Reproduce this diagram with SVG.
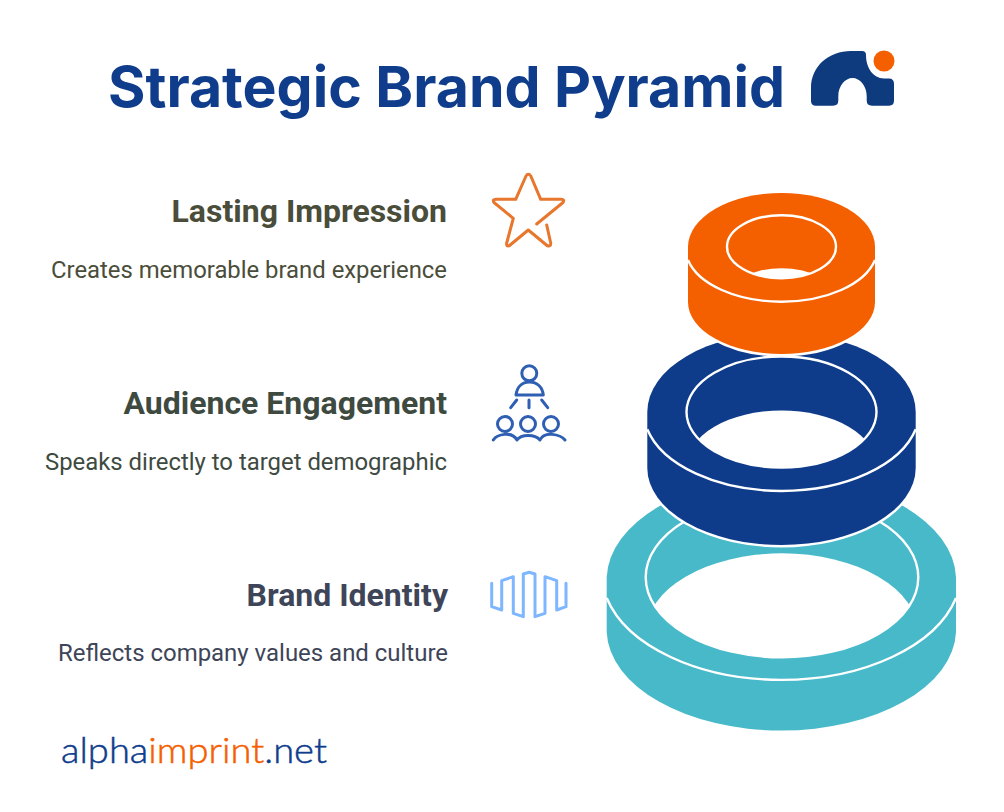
<svg xmlns="http://www.w3.org/2000/svg" width="1004" height="812" viewBox="0 0 1004 812">
<style>
.title{font-family:"Inter","Liberation Sans",sans-serif;font-weight:700;font-size:56px;fill:#0f3d8c}
.h{font-family:Roboto,"Liberation Sans",sans-serif;font-weight:700;font-size:32px;text-anchor:end}
.d{font-family:Roboto,"Liberation Sans",sans-serif;font-weight:400;font-size:24px;text-anchor:end}
.url{font-family:Lato,"Liberation Sans",sans-serif;font-weight:300;font-size:36px;fill:#0f3d8c;stroke:#0f3d8c;stroke-width:.5}
.org{fill:#f46000;stroke:#f46000}
.ln{fill:none;stroke:#fff;stroke-width:2.4}
.ic{fill:none;stroke-width:3;stroke-linecap:round;stroke-linejoin:round}
.edge{stroke:#fff;stroke-width:5;paint-order:stroke}
</style>
<defs>
<clipPath id="c1"><ellipse cx="781.5" cy="246.7" rx="54.5" ry="31.5"/></clipPath>
<clipPath id="c2"><ellipse cx="781.5" cy="412" rx="95" ry="55.5"/></clipPath>
<clipPath id="c3"><ellipse cx="782" cy="577.3" rx="136.3" ry="80"/></clipPath>
</defs>
<rect width="1004" height="812" fill="#fff"/>
<g id="title"><text class="title" x="108" y="107" textLength="677" lengthAdjust="spacingAndGlyphs">Strategic Brand Pyramid</text></g>
<g id="logo">
<path d="M811 101V88C811 66 829 51 851 51H862Q866 51 866 55C866 68 873 78 884 78.500H889Q894 78.500 894 84V100.500Q894 105.700 889 105.700H872Q866.700 105.700 866.700 100.500V96C866.700 86 860 78 852.500 78C845 78 838.300 86 838.300 96V100.500Q838.300 105.700 833 105.700H816Q811 105.700 811 101Z" fill="#0e3a7e"/>
<circle cx="884" cy="61" r="10.500" fill="#f46000"/>
</g>
<g id="ring-base">
<path d="M606.700 577.300A174.700 102.700 0 0 1 956 577.300V632A174.700 101 0 0 1 606.700 632Z" fill="#47b9c9"/>
<ellipse cx="782" cy="633.300" rx="136.300" ry="80" fill="#fff" clip-path="url(#c3)"/>
<ellipse class="ln" cx="782" cy="577.300" rx="136.300" ry="80"/>
<path class="ln" d="M606.700 598A180 108 0 0 0 956 598"/>
</g>
<g id="ring-middle">
<path class="edge" d="M647.300 412A134.200 79 0 0 1 915.700 412V468A134.200 77 0 0 1 647.300 468Z" fill="#0e3b8a"/>
<ellipse cx="781.500" cy="466" rx="95" ry="55.500" fill="#fff" clip-path="url(#c2)"/>
<ellipse class="ln" cx="781.500" cy="412" rx="95" ry="55.500"/>
<path class="ln" d="M647.300 429.300A138 80.400 0 0 0 915.700 429.300"/>
</g>
<g id="ring-top">
<path class="edge" d="M688 247A93.500 54 0 0 1 875 247V302A93.500 52 0 0 1 688 302Z" fill="#f46000"/>
<ellipse cx="781.500" cy="299.700" rx="54.500" ry="31.500" fill="#fff" clip-path="url(#c1)"/>
<ellipse class="ln" cx="781.500" cy="246.700" rx="54.500" ry="31.500"/>
<path class="ln" d="M688 260A96 53.900 0 0 0 875 260"/>
</g>
<g id="label-top">
<text class="h" x="447" y="222" fill="#4a4d3a">Lasting Impression</text>
<text class="d" x="447" y="278" fill="#4a4d3a" textLength="396" lengthAdjust="spacingAndGlyphs">Creates memorable brand experience</text>
<path class="ic" stroke="#e8762c" d="M546.700 225L550.700 243Q551 247 547 245.500L528.300 230L509.500 245.500Q506 247 506.700 243L513.300 218.300L494 202.500Q492 199.300 496 199.300H515.700L526 176Q528.300 172.500 530.800 176L540.700 199.300H561Q565 199.300 563 202.500L536.700 224"/>
</g>
<g id="label-middle">
<text class="h" x="447" y="414" fill="#3e4a3f">Audience Engagement</text>
<text class="d" x="447" y="470" fill="#3e4a3f" textLength="402" lengthAdjust="spacingAndGlyphs">Speaks directly to target demographic</text>
<g class="ic" stroke="#2f5fb3">
<circle cx="529.300" cy="373.300" r="7.500"/>
<path d="M516 395C517 387 522 382 529.500 382C537 382 542.500 387 543.300 395Z"/>
<path d="M510.700 407.700L516.700 400M529 400V407.700M541.700 400L547.700 407.700"/>
<circle cx="505" cy="424" r="7.500"/><circle cx="528" cy="424" r="7.500"/><circle cx="551" cy="424" r="7.500"/>
<path d="M493.300 440C497 434 512 431 517 440C521 434 535 434 540 440C544 431 560 434 565 440"/>
</g>
</g>
<g id="label-base">
<text class="h" x="448" y="606" fill="#3e4558">Brand Identity</text>
<text class="d" x="448" y="661" fill="#3e4558" textLength="390" lengthAdjust="spacingAndGlyphs">Reflects company values and culture</text>
<path class="ic" stroke="#7eb6ff" stroke-linecap="butt" d="M491.700 583.300V606.700L501.700 610V580.700L513.300 576.700V613.300L523.300 616.700V574L529.300 572.300L535 574V616.700L545 613.300V576.700L556.700 580.700V610L566 606.700V583.300"/>
</g>
<g id="url"><text class="url" x="61" y="763" textLength="266" lengthAdjust="spacingAndGlyphs">alpha<tspan class="org">imprint</tspan>.net</text></g>
</svg>
